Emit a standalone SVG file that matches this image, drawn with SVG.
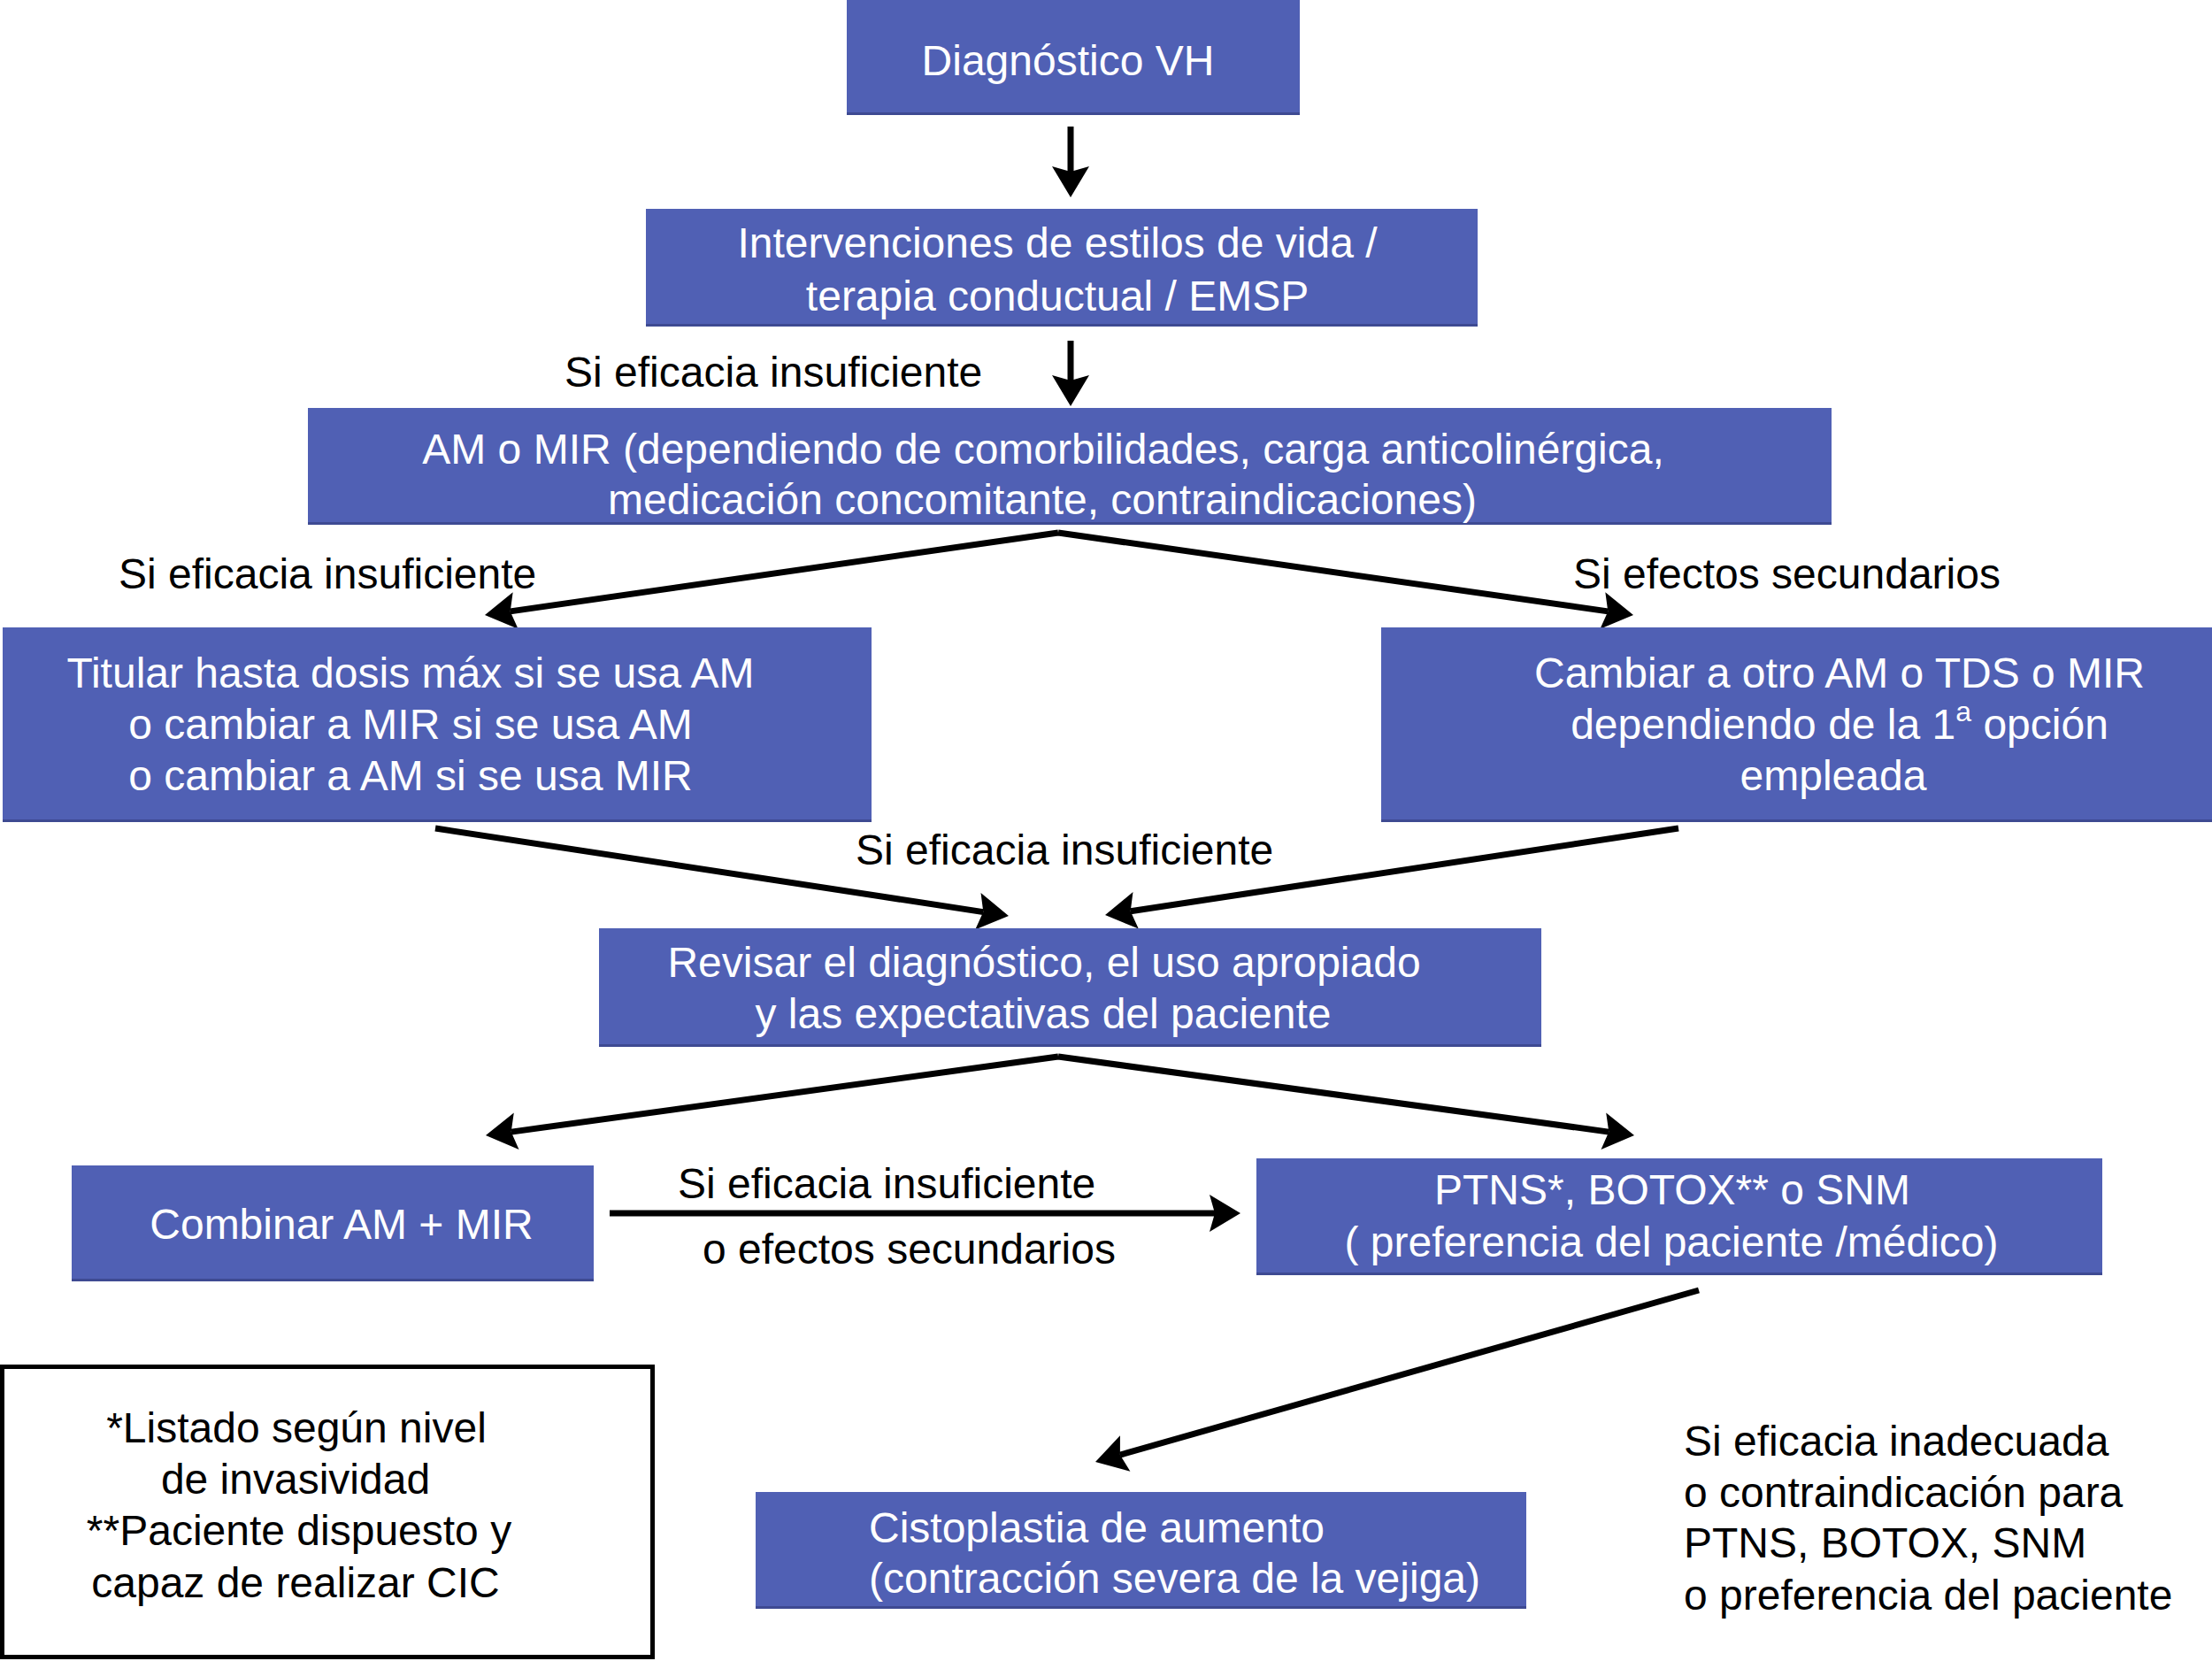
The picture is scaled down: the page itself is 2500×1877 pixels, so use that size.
<svg xmlns="http://www.w3.org/2000/svg" width="2500" height="1877" viewBox="0 0 2500 1877">
<style>
.bx{fill:#5060B4;}
.sh{fill:#3E4A92;}
.t{font-family:"Liberation Sans",Arial,sans-serif;font-size:48px;fill:#ffffff;}
.tc{text-anchor:middle;}
.lb{font-family:"Liberation Sans",Arial,sans-serif;font-size:48px;fill:#000000;}
.c{stroke:#000;stroke-width:7;fill:none;marker-end:url(#ah);}
.note{fill:#fff;stroke:#000;stroke-width:5;}
</style>
<defs>
<marker id="ah" viewBox="-8 -24 40 48" refX="0" refY="0" markerWidth="40" markerHeight="48" markerUnits="userSpaceOnUse" orient="auto">
<path d="M29,0 L-6,-21 L0,0 L-6,21 Z" fill="#000"/>
</marker>
</defs>
<rect x="0" y="0" width="2500" height="1877" fill="#ffffff"/>

<g id="connectors">
<line class="c" x1="1210" y1="143" x2="1210" y2="194"/>
<line class="c" x1="1210" y1="385" x2="1210" y2="430"/>
<line class="c" x1="1196" y1="602" x2="576.7" y2="690.9"/>
<line class="c" x1="1196" y1="602" x2="1817.3" y2="690.9"/>
<line class="c" x1="492" y1="936" x2="1111.3" y2="1030.6"/>
<line class="c" x1="1897" y1="936" x2="1277.7" y2="1029.7"/>
<line class="c" x1="1196" y1="1194" x2="577.7" y2="1279.1"/>
<line class="c" x1="1196" y1="1194" x2="1818.3" y2="1279.1"/>
<line class="c" x1="689" y1="1371" x2="1373" y2="1371"/>
<line class="c" x1="1920" y1="1458" x2="1265.9" y2="1644.1"/>
</g>

<g id="labels">
<text class="lb" x="638" y="437">Si eficacia insuficiente</text>
<text class="lb" x="134" y="665">Si eficacia insuficiente</text>
<text class="lb" x="1778" y="665">Si efectos secundarios</text>
<text class="lb" x="967" y="977">Si eficacia insuficiente</text>
<text class="lb" x="766" y="1354">Si eficacia insuficiente</text>
<text class="lb" x="794" y="1428">o efectos secundarios</text>
</g>

<g id="n1">
<rect class="sh" x="957" y="3" width="512" height="127"/>
<rect class="bx" x="957" y="0" width="512" height="127"/>
<text class="t tc" x="1207" y="85">Diagnóstico VH</text>
</g>

<g id="n2">
<rect class="sh" x="730" y="236" width="940" height="133"/>
<rect class="bx" x="730" y="236" width="940" height="130"/>
<text class="t tc" x="1195" y="291">Intervenciones de estilos de vida /</text>
<text class="t tc" x="1195" y="351">terapia conductual / EMSP</text>
</g>

<g id="n3">
<rect class="sh" x="348" y="461" width="1722" height="132"/>
<rect class="bx" x="348" y="461" width="1722" height="129"/>
<text class="t tc" x="1179" y="524">AM o MIR (dependiendo de comorbilidades, carga anticolinérgica,</text>
<text class="t tc" x="1178" y="581">medicación concomitante, contraindicaciones)</text>
</g>

<g id="n4">
<rect class="sh" x="3" y="709" width="982" height="220"/>
<rect class="bx" x="3" y="709" width="982" height="217"/>
<text class="t tc" x="464" y="777">Titular hasta dosis máx si se usa AM</text>
<text class="t tc" x="464" y="835">o cambiar a MIR si se usa AM</text>
<text class="t tc" x="464" y="893">o cambiar a AM si se usa MIR</text>
</g>

<g id="n5">
<rect class="sh" x="1561" y="709" width="939" height="220"/>
<rect class="bx" x="1561" y="709" width="939" height="217"/>
<text class="t tc" x="2079" y="777">Cambiar a otro AM o TDS o MIR</text>
<text class="t tc" x="2079" y="835">dependiendo de la 1<tspan dy="-20" font-size="32">a</tspan><tspan dy="20"> opción</tspan></text>
<text class="t tc" x="2072" y="893">empleada</text>
</g>

<g id="n6">
<rect class="sh" x="677" y="1049" width="1065" height="134"/>
<rect class="bx" x="677" y="1049" width="1065" height="131"/>
<text class="t tc" x="1180" y="1104">Revisar el diagnóstico, el uso apropiado</text>
<text class="t tc" x="1179" y="1162">y las expectativas del paciente</text>
</g>

<g id="n7">
<rect class="sh" x="81" y="1317" width="590" height="131"/>
<rect class="bx" x="81" y="1317" width="590" height="128"/>
<text class="t tc" x="386" y="1400">Combinar AM + MIR</text>
</g>

<g id="n8">
<rect class="sh" x="1420" y="1309" width="956" height="132"/>
<rect class="bx" x="1420" y="1309" width="956" height="129"/>
<text class="t tc" x="1890" y="1361">PTNS*, BOTOX** o SNM</text>
<text class="t tc" x="1889" y="1420">( preferencia del paciente /médico)</text>
</g>

<g id="n9">
<rect class="sh" x="854" y="1686" width="871" height="132"/>
<rect class="bx" x="854" y="1686" width="871" height="129"/>
<text class="t" x="982" y="1743">Cistoplastia de aumento</text>
<text class="t" x="982" y="1800">(contracción severa de la vejiga)</text>
</g>

<g id="n10">
<text class="lb" x="1903" y="1645">Si eficacia inadecuada</text>
<text class="lb" x="1903" y="1703">o contraindicación para</text>
<text class="lb" x="1903" y="1760">PTNS, BOTOX, SNM</text>
<text class="lb" x="1903" y="1819">o preferencia del paciente</text>
</g>

<g id="note">
<rect class="note" x="2.5" y="1544.5" width="735" height="328"/>
<text class="lb tc" x="335" y="1630">*Listado según nivel</text>
<text class="lb tc" x="334" y="1688">de invasividad</text>
<text class="lb tc" x="338" y="1746">**Paciente dispuesto y</text>
<text class="lb tc" x="334" y="1805">capaz de realizar CIC</text>
</g>
</svg>
